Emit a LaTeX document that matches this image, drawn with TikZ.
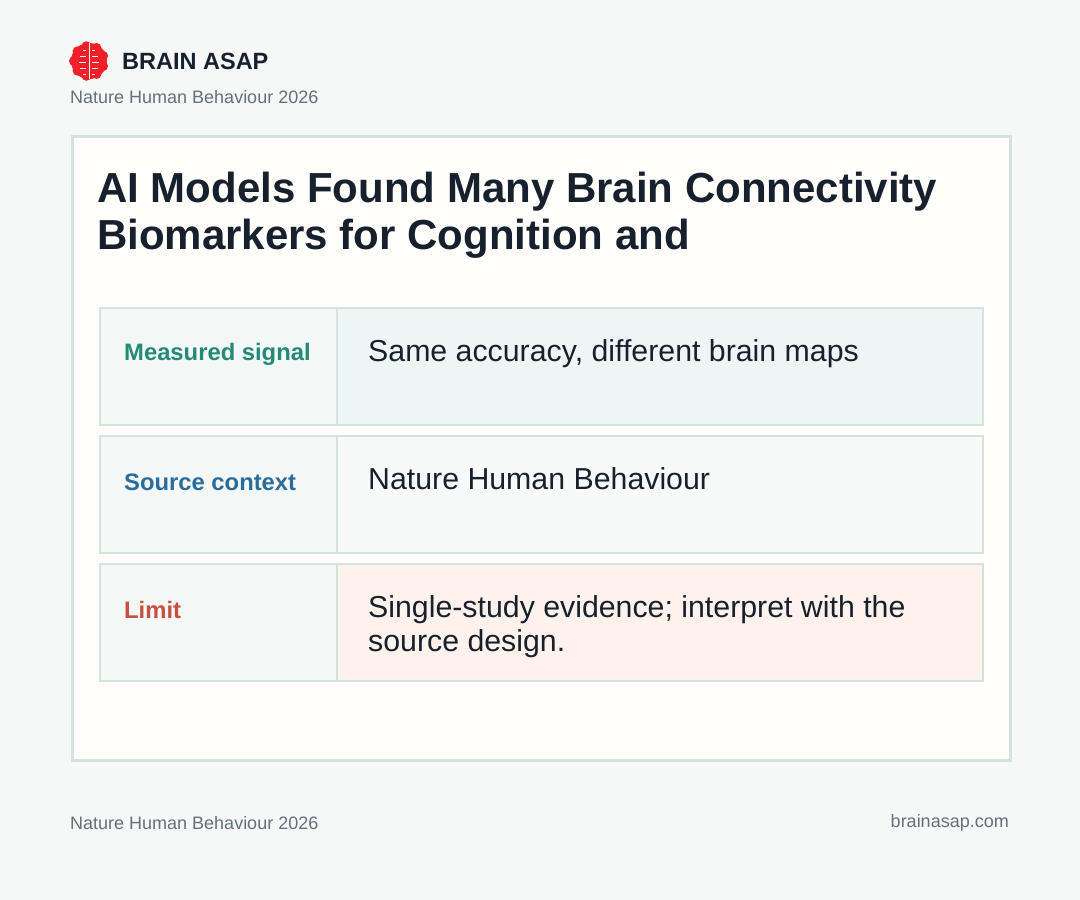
\documentclass[tikz,border=0pt]{standalone}
\usepackage{fontspec}
\setmainfont{Liberation Sans}
\definecolor{bg}{HTML}{F6F8F7}
\definecolor{card}{HTML}{FFFEFA}
\definecolor{bd}{HTML}{D3E4DF}
\definecolor{ink}{HTML}{17212E}
\definecolor{muted}{HTML}{65707B}
\definecolor{lab}{HTML}{F3F7F6}
\definecolor{v1}{HTML}{EEF6F5}
\definecolor{v2}{HTML}{F7FAF9}
\definecolor{v3}{HTML}{FFF1EC}
\definecolor{cg}{HTML}{238A7A}
\definecolor{cb}{HTML}{2C6C9A}
\definecolor{cr}{HTML}{C9503F}
\definecolor{brain}{HTML}{F0202A}
\tikzset{cell/.style={draw=bd,line width=1.5pt},
lbl/.style={anchor=west,font=\fontsize{23.8}{28}\selectfont\bfseries},
val/.style={anchor=north west,font=\fontsize{30.3}{34}\selectfont,text=ink,align=left,inner sep=0pt},
small/.style={anchor=west,font=\fontsize{18}{21}\selectfont,text=muted,inner sep=0pt}}
\begin{document}
\begin{tikzpicture}[x=1pt,y=-1pt]
\fill[bg] (0,0) rectangle (1080,900);
\useasboundingbox (0,0) rectangle (1080,900);
% logo
\fill[brain] (89,61) circle (18);
\foreach \a in {20,60,...,340}{\fill[brain] (89,61) ++(\a:15) circle (5);}
\draw[white,line width=1pt] (89,43)--(89,79);
\foreach \yy/\l in {50/6,56/9,62/10,68/9,74/6}{\draw[white,line width=0.8pt] (89-\l,\yy)--(86,\yy) (92,\yy)--(89+\l,\yy);}
\node[anchor=west,inner sep=0pt,font=\fontsize{23.5}{28}\selectfont\bfseries,text=ink] (brand) at (122,61) {BRAIN ASAP};
\node[small] (sub) at (70,97) {Nature Human Behaviour 2026};
% card
\node[draw=bd,line width=3pt,fill=card,minimum width=938pt,minimum height=624pt,anchor=north west,inner sep=0pt] (card) at (71,135) {};
\node[anchor=north west,inner sep=0pt,align=left,text=ink,font=\fontsize{42}{47}\selectfont\bfseries] (title) at (97,172) {AI Models Found Many Brain Connectivity\\Biomarkers for Cognition and};
% rows
\foreach \i/\y/\vc/\lc/\lt/\vt in {1/307/v1/cg/Measured signal/{Same accuracy, different brain maps},
  2/435/v2/cb/Source context/Nature Human Behaviour,
  3/563/v3/cr/Limit/{Single-study evidence; interpret with the\\source design.}}{
  \node[cell,fill=lab,minimum width=237pt,minimum height=117pt,anchor=north west,inner sep=0pt] (l\i) at (99,\y) {};
  \node[cell,fill=\vc,minimum width=646pt,minimum height=117pt,anchor=north west,inner sep=0pt] (v\i) at (336,\y) {};
  \node[lbl,text=\lc,inner sep=0pt] (lt\i) at (124,\y+47) {\lt};
  \node[val] (vt\i) at (368,\y+32) {\vt};
}
\node[small] (foot) at (70,823) {Nature Human Behaviour 2026};
\node[small,anchor=east] (site) at (1009,823) {brainasap.com};
\end{tikzpicture}
\end{document}
